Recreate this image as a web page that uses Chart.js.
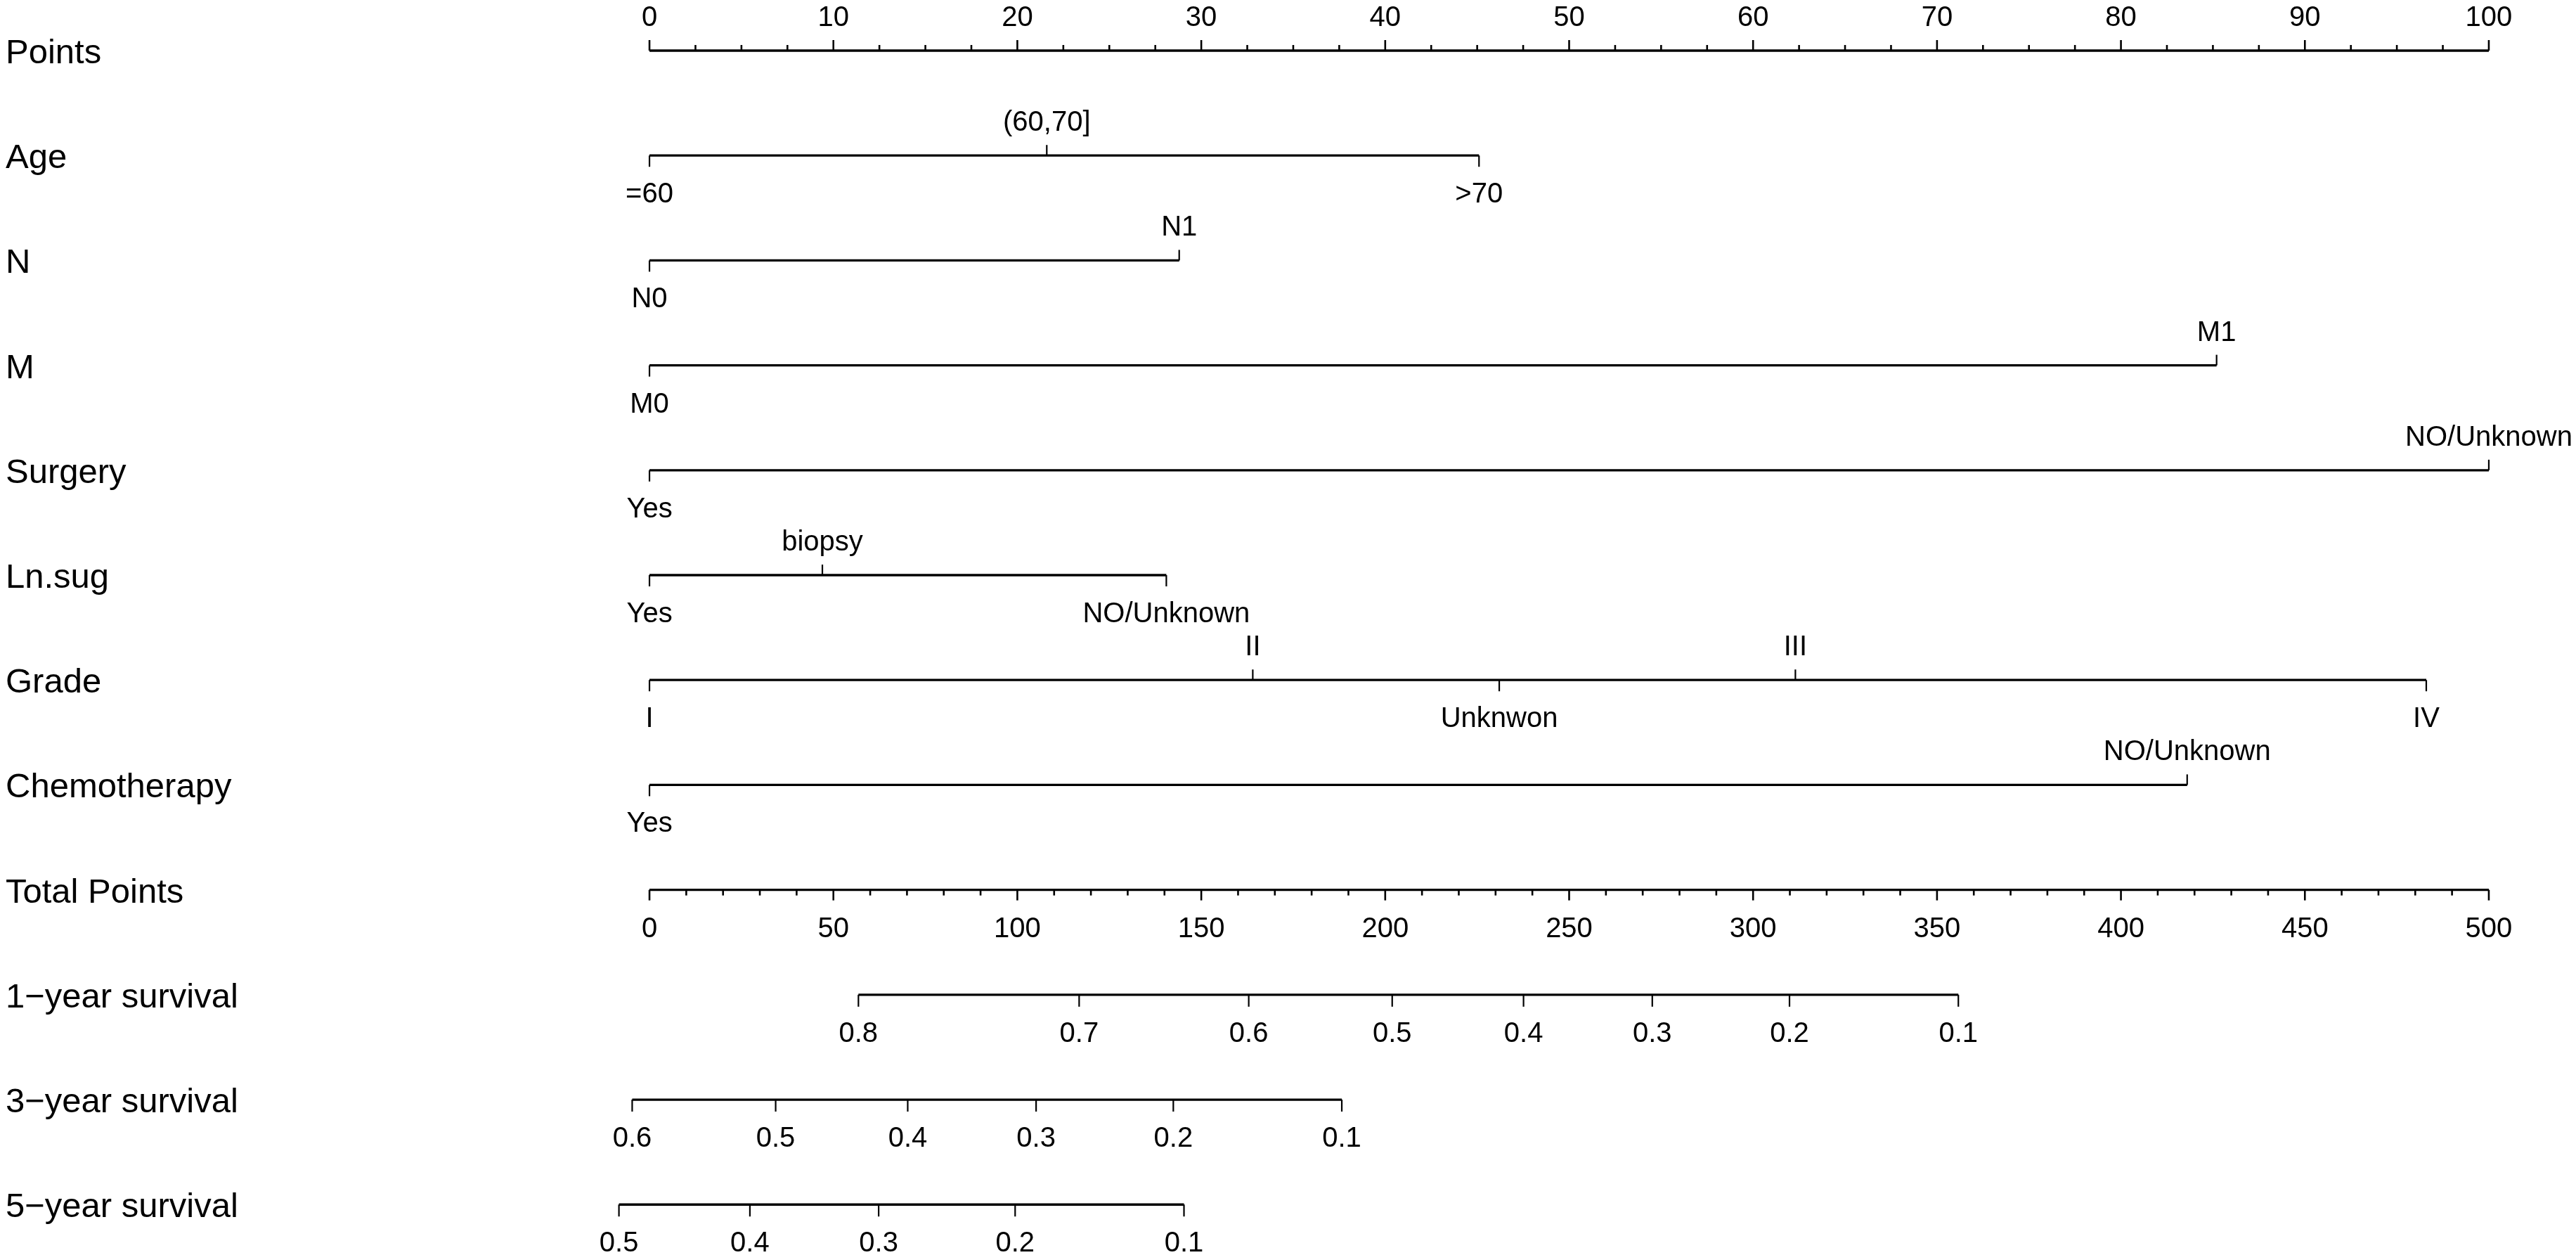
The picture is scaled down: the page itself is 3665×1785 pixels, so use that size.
<!DOCTYPE html>
<html>
<head>
<meta charset="utf-8">
<script src="https://cdn.jsdelivr.net/npm/chart.js@4.4.1/dist/chart.umd.min.js"></script>
<style>
  html, body { margin: 0; padding: 0; background: #fff; }
  #wrap { width: 3665px; height: 1785px; position: relative; }
</style>
</head>
<body>
<div id="wrap"><canvas id="nomo"></canvas></div>
<script>
// row names, top to bottom
const rowLabels = ['Points', 'Age', 'N', 'M', 'Surgery', 'Ln.sug', 'Grade', 'Chemotherapy',
    'Total Points', '1\u2212year survival', '3\u2212year survival', '5\u2212year survival'];

// points scale (0-100) and total points scale (0-500)
const pointsTicks = [0, 10, 20, 30, 40, 50, 60, 70, 80, 90, 100];
const totalTicks = [0, 50, 100, 150, 200, 250, 300, 350, 400, 450, 500];

// predictors: level names and their points
const ageLevels = ['=60', '(60,70]', '>70'];
const agePoints = [0, 21.6, 45.1];
const nLevels = ['N0', 'N1'];
const nPoints = [0, 28.8];
const mLevels = ['M0', 'M1'];
const mPoints = [0, 85.2];
const surgeryLevels = ['Yes', 'NO/Unknown'];
const surgeryPoints = [0, 100];
const lnsugLevels = ['Yes', 'biopsy', 'NO/Unknown'];
const lnsugPoints = [0, 9.4, 28.1];
const gradeLevels = ['I', 'II', 'Unknwon', 'III', 'IV'];
const gradePoints = [0, 32.8, 46.2, 62.3, 96.6];
const chemoLevels = ['Yes', 'NO/Unknown'];
const chemoPoints = [0, 83.6];

// survival probabilities against total points
const surv1Labels = ['0.8', '0.7', '0.6', '0.5', '0.4', '0.3', '0.2', '0.1'];
const surv1Total = [56.8, 116.8, 162.9, 201.9, 237.6, 272.6, 309.9, 355.8];
const surv3Labels = ['0.6', '0.5', '0.4', '0.3', '0.2', '0.1'];
const surv3Total = [-4.7, 34.3, 70.2, 105.1, 142.4, 188.2];
const surv5Labels = ['0.5', '0.4', '0.3', '0.2', '0.1'];
const surv5Total = [-8.3, 27.3, 62.3, 99.4, 145.3];

const predictors = [
    { row: 1, levels: ageLevels, pts: agePoints },
    { row: 2, levels: nLevels, pts: nPoints },
    { row: 3, levels: mLevels, pts: mPoints },
    { row: 4, levels: surgeryLevels, pts: surgeryPoints },
    { row: 5, levels: lnsugLevels, pts: lnsugPoints },
    { row: 6, levels: gradeLevels, pts: gradePoints },
    { row: 7, levels: chemoLevels, pts: chemoPoints }
];
const survivals = [
    { row: 9, labels: surv1Labels, vals: surv1Total },
    { row: 10, labels: surv3Labels, vals: surv3Total },
    { row: 11, labels: surv5Labels, vals: surv5Total }
];

const FONT = '"Liberation Sans", Arial, Helvetica, sans-serif';
const LINE_W = 3.3;

function segment(values, row, axis) {
    return {
        data: [{ x: Math.min(...values), y: row }, { x: Math.max(...values), y: row }],
        xAxisID: axis,
        borderColor: '#000',
        borderWidth: LINE_W,
        pointRadius: 0,
        fill: false,
        clip: false
    };
}

const datasets = [segment(pointsTicks, 0, 'x')];
predictors.forEach(p => datasets.push(segment(p.pts, p.row, 'x')));
datasets.push(segment(totalTicks, 8, 'xt'));
survivals.forEach(s => datasets.push(segment(s.vals, s.row, 'xt')));

// minor ticks between labelled ticks
function subdivide(ticks, n) {
    const out = [];
    for (let i = 0; i < ticks.length - 1; i++) {
        const step = (ticks[i + 1] - ticks[i]) / n;
        for (let k = 1; k < n; k++) out.push(ticks[i] + k * step);
    }
    return out;
}

const nomogramPlugin = {
    id: 'nomogram',
    afterDatasetsDraw(chart) {
        const { ctx, scales } = chart;
        const y = scales.y;
        ctx.save();
        ctx.strokeStyle = '#000';
        ctx.fillStyle = '#000';
        ctx.textBaseline = 'alphabetic';

        // row names on the left
        ctx.font = '49px ' + FONT;
        ctx.textAlign = 'left';
        rowLabels.forEach((name, i) => ctx.fillText(name, 8, y.getPixelForValue(i) + 18));

        ctx.font = '40px ' + FONT;
        ctx.textAlign = 'center';

        const tick = (scale, v, row, len, w) => {
            const px = scale.getPixelForValue(v);
            const py = y.getPixelForValue(row);
            ctx.lineWidth = w;
            ctx.beginPath();
            ctx.moveTo(px, py);
            ctx.lineTo(px, py + len);
            ctx.stroke();
            return [px, py];
        };
        const label = (text, px, py, above) => {
            ctx.fillText(text, px, above ? py - 35 : py + 67);
        };

        // Points axis: ticks and labels above
        pointsTicks.forEach(v => {
            const [px, py] = tick(scales.x, v, 0, -15, 2.6);
            label(String(v), px, py, true);
        });
        subdivide(pointsTicks, 4).forEach(v => tick(scales.x, v, 0, -8, 2.6));

        // predictors: alternate below / above in order of points
        predictors.forEach(p => {
            const order = p.pts.map((v, i) => i).sort((a, b) => p.pts[a] - p.pts[b]);
            order.forEach((idx, k) => {
                const above = k % 2 === 1;
                const [px, py] = tick(scales.x, p.pts[idx], p.row, above ? -15 : 16, 2.2);
                label(p.levels[idx], px, py, above);
            });
        });

        // Total Points axis: ticks and labels below
        totalTicks.forEach(v => {
            const [px, py] = tick(scales.xt, v, 8, 15, 2.6);
            label(String(v), px, py, false);
        });
        subdivide(totalTicks, 5).forEach(v => tick(scales.xt, v, 8, 8, 2.6));

        // survival scales
        survivals.forEach(s => {
            s.vals.forEach((v, i) => {
                const [px, py] = tick(scales.xt, v, s.row, 17, 2.2);
                label(s.labels[i], px, py, false);
            });
        });

        ctx.restore();
    }
};

// 0 points sits at 924px and 100 points at 3541px across a 3665px canvas
const X_MIN = -35.31, X_MAX = 104.74;
// rows are about 149px apart, the first at 72px
const Y_MIN = -0.4826, Y_MAX = 11.481;

new Chart(document.getElementById('nomo'), {
    type: 'line',
    data: { datasets: datasets },
    options: {
        responsive: true,
        maintainAspectRatio: false,
        devicePixelRatio: 1,
        animation: false,
        layout: { padding: 0 },
        plugins: { legend: { display: false }, tooltip: { enabled: false } },
        scales: {
            x: { type: 'linear', min: X_MIN, max: X_MAX, display: false },
            xt: { type: 'linear', min: X_MIN * 5, max: X_MAX * 5, display: false },
            y: { type: 'linear', min: Y_MIN, max: Y_MAX, reverse: true, display: false }
        }
    },
    plugins: [nomogramPlugin]
});
</script>
</body>
</html>
